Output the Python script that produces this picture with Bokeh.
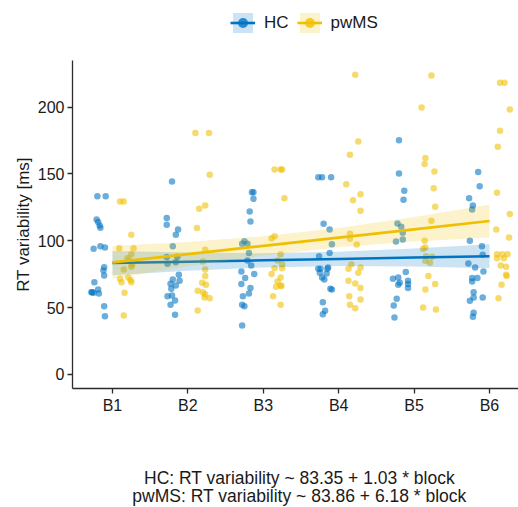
from bokeh.plotting import figure
from bokeh.layouts import column
from bokeh.models import (ColumnDataSource, FixedTicker, Legend, LegendItem,
                          Label, Range1d)
from bokeh.embed import file_html
from bokeh.resources import INLINE

blocks = ["B1", "B2", "B3", "B4", "B5", "B6"]
groups = ["HC", "pwMS"]
colors = ["#0073C2", "#EFC000"]

# RT variability [ms] per participant, per block
hc_vals = [
    [133.4, 133.4, 115.9, 114.0, 111.5, 109.8, 94.0, 96.0, 95.0, 80.3, 77.8, 74.0, 69.0, 61.6, 61.1, 61.5, 63.6, 60.6, 51.1, 43.6],
    [144.4, 117.0, 112.0, 108.5, 104.5, 96.0, 87.8, 82.8, 88.0, 84.0, 74.6, 71.1, 70.1, 67.8, 66.6, 64.1, 58.6, 59.1, 55.4, 52.1, 44.7],
    [136.4, 136.4, 131.4, 122.0, 114.5, 99.7, 97.8, 97.8, 90.8, 85.3, 81.6, 77.1, 75.1, 72.1, 67.6, 64.6, 60.6, 58.6, 52.1, 51.1, 36.7],
    [147.6, 147.6, 147.6, 112.7, 108.5, 97.5, 88.5, 90.8, 79.0, 79.0, 79.0, 80.1, 76.1, 72.6, 75.6, 71.1, 64.1, 63.6, 54.1, 47.7, 45.1],
    [175.3, 150.4, 137.4, 130.7, 113.0, 110.5, 106.0, 99.5, 101.0, 76.6, 71.6, 72.6, 68.6, 70.1, 67.6, 64.6, 67.1, 56.6, 51.6, 42.6],
    [151.4, 140.9, 131.9, 126.4, 123.5, 100.0, 96.0, 89.6, 83.0, 80.1, 77.1, 72.1, 72.1, 69.6, 61.6, 57.6, 57.6, 55.1, 46.2, 43.2],
]
hc_jit = [
    [-0.20, -0.09, -0.21, -0.19, -0.17, -0.16, -0.25, -0.16, -0.10, -0.11, -0.12, -0.11, -0.24, -0.28, -0.25, -0.27, -0.19, -0.18, -0.11, -0.10],
    [-0.21, -0.28, -0.28, -0.13, -0.16, -0.20, -0.28, -0.27, -0.14, -0.16, -0.12, -0.20, -0.11, -0.23, -0.16, -0.22, -0.27, -0.21, -0.17, -0.23, -0.17],
    [-0.15, -0.13, -0.13, -0.18, -0.17, -0.25, -0.28, -0.21, -0.19, -0.21, -0.16, -0.29, -0.12, -0.24, -0.29, -0.17, -0.19, -0.27, -0.28, -0.25, -0.28],
    [-0.27, -0.22, -0.10, -0.20, -0.12, -0.09, -0.26, -0.12, -0.27, -0.24, -0.15, -0.14, -0.25, -0.22, -0.16, -0.19, -0.11, -0.09, -0.21, -0.18, -0.21],
    [-0.20, -0.20, -0.13, -0.14, -0.22, -0.17, -0.15, -0.24, -0.15, -0.11, -0.28, -0.21, -0.19, -0.08, -0.08, -0.08, -0.21, -0.23, -0.27, -0.26],
    [-0.15, -0.13, -0.27, -0.22, -0.23, -0.26, -0.10, -0.09, -0.28, -0.19, -0.08, -0.16, -0.23, -0.23, -0.21, -0.21, -0.09, -0.26, -0.21, -0.22],
]
pw_vals = [
    [129.4, 129.4, 104.5, 94.5, 94.5, 87.0, 90.0, 78.6, 80.6, 71.6, 69.0, 72.6, 70.6, 69.0, 61.1, 44.1, 82.3, 85.0],
    [180.6, 180.6, 149.4, 124.0, 126.4, 109.5, 93.3, 84.5, 78.6, 73.6, 68.6, 67.1, 62.6, 61.6, 60.1, 57.6, 57.1, 47.9],
    [153.4, 153.4, 153.4, 131.9, 102.0, 103.5, 90.0, 85.3, 82.5, 79.5, 79.5, 75.1, 72.6, 69.6, 66.6, 65.6, 66.1, 58.6, 52.1],
    [224.2, 174.3, 164.4, 142.4, 134.9, 130.4, 122.5, 105.3, 101.5, 97.3, 82.5, 79.0, 76.1, 80.1, 70.1, 68.1, 64.6, 58.6, 56.1, 52.1, 49.6],
    [223.7, 199.8, 161.9, 157.4, 151.9, 139.4, 125.5, 115.0, 100.0, 94.0, 95.0, 88.5, 88.0, 85.0, 83.6, 73.6, 67.6, 63.6, 50.1, 48.6],
    [218.2, 218.2, 198.3, 182.3, 170.3, 135.9, 120.0, 108.5, 102.5, 90.0, 90.0, 90.0, 87.0, 87.0, 81.6, 80.6, 74.6, 73.6, 67.1, 57.1],
]
pw_jit = [
    [0.10, 0.15, 0.25, 0.09, 0.28, 0.20, 0.25, 0.15, 0.25, 0.10, 0.12, 0.21, 0.24, 0.25, 0.16, 0.15, 0.26, 0.22],
    [0.10, 0.28, 0.29, 0.15, 0.23, 0.12, 0.23, 0.20, 0.23, 0.23, 0.19, 0.24, 0.13, 0.20, 0.23, 0.22, 0.29, 0.13],
    [0.15, 0.23, 0.25, 0.28, 0.11, 0.15, 0.23, 0.19, 0.25, 0.15, 0.25, 0.11, 0.23, 0.19, 0.23, 0.17, 0.24, 0.13, 0.23],
    [0.22, 0.26, 0.15, 0.10, 0.29, 0.19, 0.29, 0.15, 0.15, 0.24, 0.17, 0.13, 0.26, 0.29, 0.13, 0.22, 0.29, 0.14, 0.29, 0.15, 0.22],
    [0.23, 0.10, 0.15, 0.14, 0.27, 0.26, 0.28, 0.23, 0.14, 0.12, 0.15, 0.16, 0.24, 0.15, 0.21, 0.19, 0.28, 0.15, 0.12, 0.29],
    [0.14, 0.20, 0.27, 0.14, 0.11, 0.10, 0.27, 0.09, 0.26, 0.10, 0.17, 0.24, 0.10, 0.19, 0.15, 0.22, 0.22, 0.23, 0.16, 0.12],
]

# linear fits (from the caption) and confidence band edges at each block
hc_coef = [83.35, 1.03]
pw_coef = [83.86, 6.18]
hc_band_lo = [74.3, 77.6, 80.1, 81.1, 80.7, 79.5]
hc_band_hi = [92.4, 91.2, 90.7, 91.8, 94.3, 97.5]
pw_band_lo = [71.6, 80.9, 89.0, 95.2, 99.4, 102.5]
pw_band_hi = [96.1, 99.2, 103.4, 109.6, 117.8, 127.0]

y_ticks = [0, 50, 100, 150, 200]

FONT = "Liberation Sans"
W = 518

pos = list(range(1, len(blocks) + 1))
data = [
    (groups[0], colors[0], hc_vals, hc_jit, hc_coef, hc_band_lo, hc_band_hi),
    (groups[1], colors[1], pw_vals, pw_jit, pw_coef, pw_band_lo, pw_band_hi),
]

sources = []
for name, col, vals, jit, coef, lo, hi in data:
    xs, ys = [], []
    for i, (vv, jj) in enumerate(zip(vals, jit)):
        for v, j in zip(vv, jj):
            xs.append(pos[i] + j)
            ys.append(v)
    pts = ColumnDataSource(dict(x=xs, y=ys))
    fit = ColumnDataSource(dict(x=pos, y=[coef[0] + coef[1] * i for i in range(len(pos))],
                                lo=lo, hi=hi))
    sources.append((pts, fit))

# ---------- main plot ----------
p = figure(width=W, height=360, output_backend="svg", toolbar_location=None,
           x_range=Range1d(0.47, 6.385), y_range=Range1d(-10.5, 234.9),
           min_border_left=72, min_border_right=0, min_border_top=0,
           min_border_bottom=32)
p.outline_line_color = None
p.xgrid.visible = False
p.ygrid.visible = False

for (name, col, *_), (pts, fit) in zip(data, sources):
    p.scatter("x", "y", source=pts, size=6.5, fill_color=col,
              fill_alpha=0.58, line_color=None)
for (name, col, *_), (pts, fit) in zip(data, sources):
    p.varea(x="x", y1="lo", y2="hi", source=fit, fill_color=col, fill_alpha=0.2)
    p.line("x", "y", source=fit, line_color=col, line_width=2.6)

for ax in (p.xaxis[0], p.yaxis[0]):
    ax.axis_line_color = "#2b2b2b"
    ax.axis_line_width = 1.3
    ax.major_tick_line_color = "#2b2b2b"
    ax.major_tick_line_width = 1.3
    ax.major_tick_out = 5
    ax.major_tick_in = 0
    ax.minor_tick_line_color = None
    ax.major_label_text_font = FONT
    ax.major_label_text_font_size = "16px"
    ax.major_label_text_color = "#1a1a1a"
    ax.major_label_standoff = 3

p.xaxis.ticker = FixedTicker(ticks=pos)
p.xaxis.major_label_overrides = {k: b for k, b in zip(pos, blocks)}
p.yaxis.ticker = FixedTicker(ticks=y_ticks)
p.yaxis.axis_label = "RT variability [ms]"
p.yaxis.axis_label_text_font = FONT
p.yaxis.axis_label_text_font_size = "17px"
p.yaxis.axis_label_text_font_style = "normal"
p.yaxis.axis_label_text_color = "#1a1a1a"
p.yaxis.axis_label_standoff = 2

# ---------- legend strip (top); its ranges lie outside the data ----------
lg = figure(width=W, height=60, output_backend="svg", toolbar_location=None,
            x_axis_location=None, y_axis_location=None, min_border=0,
            x_range=Range1d(0.47, 6.385), y_range=Range1d(1000, 1001))
lg.outline_line_color = None
lg.grid.visible = False
items = []
for (name, col, *_), (pts, fit) in zip(data, sources):
    b = lg.varea(x="x", y1="lo", y2="hi", source=fit, fill_color=col, fill_alpha=0.2)
    l = lg.line("x", "y", source=fit, line_color=col, line_width=2.6)
    s = lg.scatter("x", "y", source=pts, size=6.5, fill_color=col,
                   fill_alpha=0.8, line_color=None)
    items.append(LegendItem(label=name, renderers=[b, l, s]))
legend = Legend(items=items, orientation="horizontal", location=(158, 25),
                glyph_width=25, glyph_height=25, label_standoff=9, spacing=8,
                padding=0, margin=0, border_line_color=None,
                background_fill_alpha=0, label_text_font=FONT,
                label_text_font_size="17px", label_text_color="#1a1a1a")
lg.add_layout(legend, "center")

# ---------- caption strip (bottom) ----------
cp = figure(width=W, height=87, output_backend="svg", toolbar_location=None,
            x_axis_location=None, y_axis_location=None, min_border=0,
            x_range=Range1d(0, 1), y_range=Range1d(0, 1))
cp.outline_line_color = None
cp.grid.visible = False
cap1 = f"{groups[0]}: RT variability ~ {hc_coef[0]:.2f} + {hc_coef[1]:.2f} * block"
cap2 = f"{groups[1]}: RT variability ~ {pw_coef[0]:.2f} + {pw_coef[1]:.2f} * block"
for txt, yy in ((cap1, 30), (cap2, 12)):
    cp.add_layout(Label(x=227, y=yy, x_units="screen", y_units="screen", text=txt,
                        text_align="center", text_baseline="alphabetic",
                        text_font=FONT, text_font_size="17.5px",
                        text_color="#1a1a1a"))

layout = column(lg, p, cp, spacing=0)
open("out.html", "w").write(file_html(layout, INLINE))
